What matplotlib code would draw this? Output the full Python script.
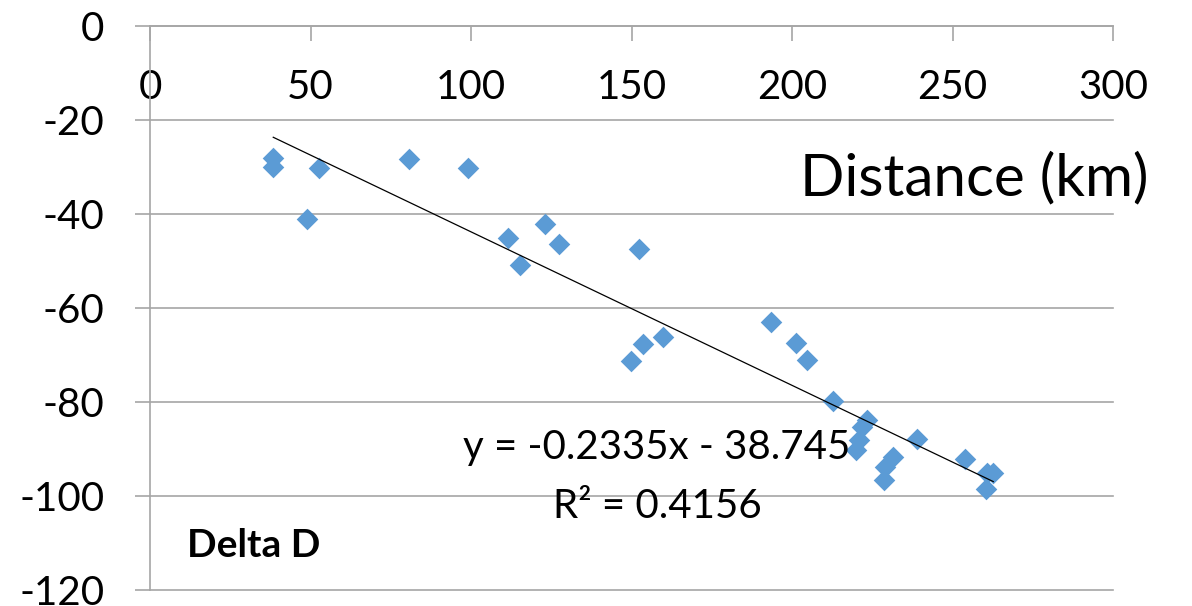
import numpy as np
import matplotlib
matplotlib.use("Agg")
import matplotlib.pyplot as plt

# ---- data ----
distance_km = [38.4, 38.4, 48.8, 52.7, 80.6, 99.1, 111.6, 115.2, 123.1, 127.4,
               149.7, 152.4, 153.7, 159.7, 193.5, 201.2, 204.7, 212.9, 219.8, 220.8,
               221.8, 223.3, 228.7, 229.0, 231.6, 238.8, 253.9, 260.3, 260.6, 262.7]
delta_d = [-28.0, -30.0, -41.1, -30.3, -28.2, -30.3, -45.0, -50.9, -42.2, -46.3,
           -71.3, -47.4, -67.7, -66.1, -63.0, -67.4, -71.1, -79.7, -90.2, -88.0,
           -85.3, -83.8, -96.7, -93.8, -91.6, -87.9, -92.1, -98.6, -95.2, -95.2]

x_ticks = [0, 50, 100, 150, 200, 250, 300]
y_ticks = [0, -20, -40, -60, -80, -100, -120]

eq_text = "y = -0.2335x - 38.745"
r2_text = "R\u00b2 = 0.4156"

# ---- style ----
plt.rcParams['font.family'] = ['Lato', 'DejaVu Sans']
plt.rcParams['axes.unicode_minus'] = False   # plain hyphen like Excel
GRID = "#a6a6a6"
BLUE = "#5b9bd5"

fig = plt.figure(figsize=(11.92, 6.06), dpi=100)
ax = fig.add_axes([150 / 1192, 1 - 590 / 606, (1113 - 150) / 1192, 564 / 606])

ax.scatter(distance_km, delta_d, marker="D", s=11 ** 2, color=BLUE,
           linewidths=0, zorder=3)

# linear trendline over the data range
coef = np.polyfit(distance_km, delta_d, 1)
xs = np.array([min(distance_km), max(distance_km)])
ax.plot(xs, np.polyval(coef, xs), color="black", lw=0.9, zorder=4)

ax.set_xlim(0, 300)
ax.set_ylim(-120, 0)
ax.set_xticks(x_ticks)
ax.set_yticks(y_ticks)

# x axis sits on y = 0 (top), labels hang below it
ax.spines['bottom'].set_position(('data', 0))
ax.spines['top'].set_visible(False)
ax.spines['right'].set_visible(False)
for sp in ('bottom', 'left'):
    ax.spines[sp].set_color(GRID)
    ax.spines[sp].set_linewidth(1.2)

ax.tick_params(axis='x', direction='out', length=10.8, width=1.2, color=GRID,
               labelsize=29, pad=20)
ax.tick_params(axis='y', direction='out', length=10.8, width=1.2, color=GRID,
               labelsize=29, pad=22)

ax.yaxis.grid(True, color=GRID, lw=1.2)
for gl in ax.get_ygridlines():
    gl.set_clip_on(False)
ax.set_axisbelow(True)

fig.text(1148 / 1192, 1 - 195 / 606, "Distance (km)", fontsize=42,
         ha="right", va="baseline")
fig.text(187 / 1192, 1 - 557 / 606, "Delta D", fontsize=28, fontweight="bold",
         ha="left", va="baseline")
fig.text(657 / 1192, 1 - 459 / 606, eq_text, fontsize=29, ha="center", va="baseline")
fig.text(657 / 1192, 1 - 518 / 606, r2_text, fontsize=29, ha="center", va="baseline")

fig.savefig("out.png", dpi=100)
